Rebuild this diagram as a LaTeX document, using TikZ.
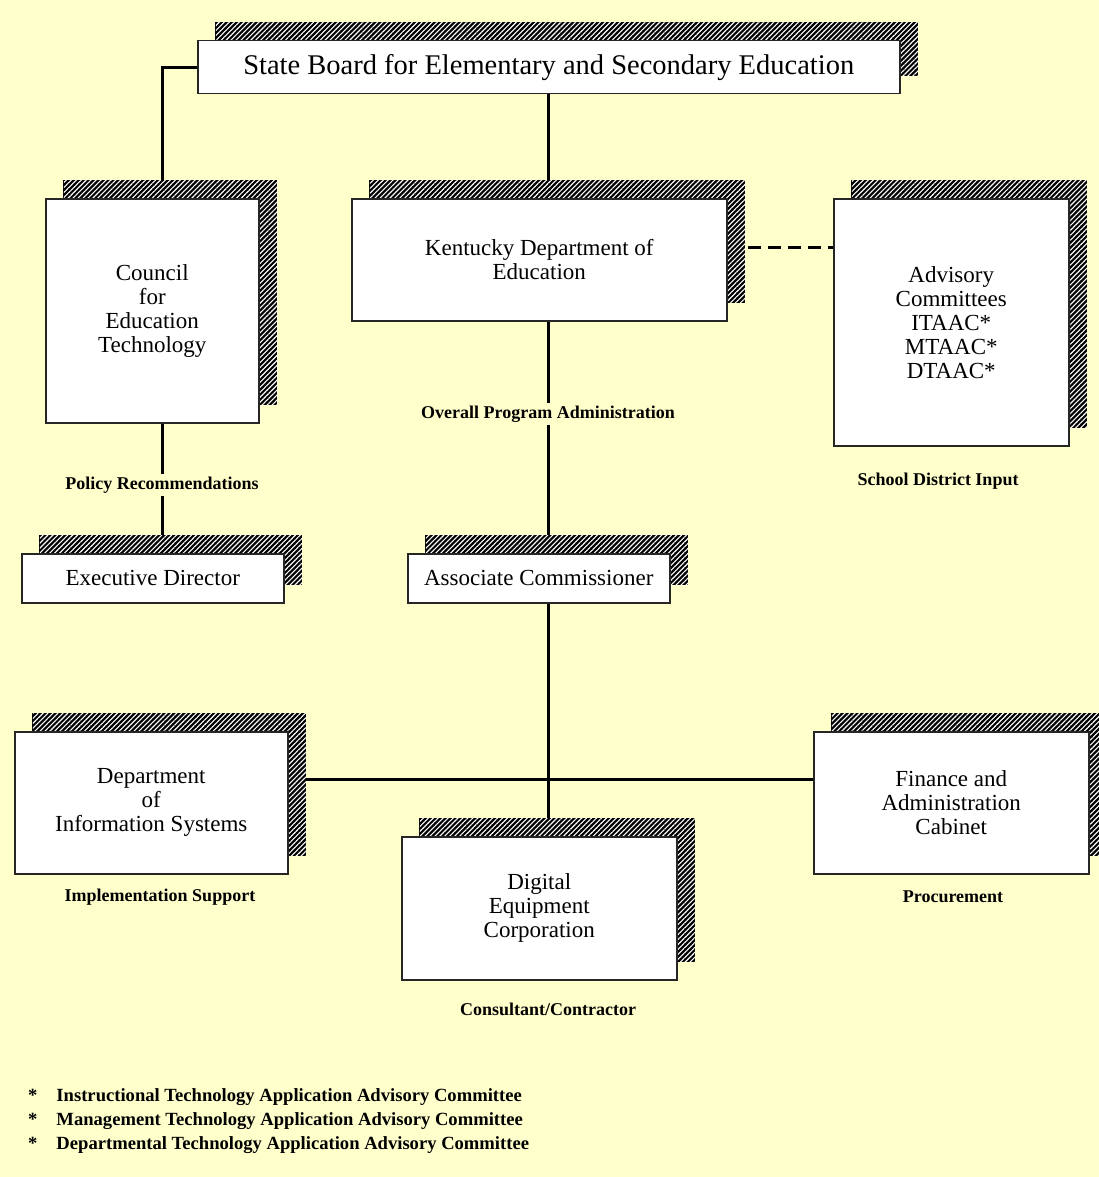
\documentclass[tikz,border=0pt]{standalone}
\usepackage{fontspec}
\setmainfont{Liberation Serif}
\usetikzlibrary{shadows,patterns.meta}
\definecolor{paper}{HTML}{FFFFCC}
\pgfdeclarelayer{bg}
\pgfdeclarelayer{wires}
\pgfsetlayers{bg,wires,main}
\tikzset{
  unit/.style={draw=black!85, line width=1.5pt, fill=white, anchor=north west,
    align=center, inner sep=0pt, font=\fontsize{23}{24}\selectfont,
    general shadow={shadow xshift=18pt, shadow yshift=18pt, fill=black, draw=black, line width=1pt},
    general shadow={shadow xshift=18pt, shadow yshift=18pt,
      pattern={Lines[angle=45,distance=3.5pt,line width=1.1pt]}, pattern color=white}},
  tag/.style={fill=paper, inner sep=3pt, font=\bfseries\fontsize{18}{20}\selectfont},
  note/.style={anchor=west, inner sep=0pt, font=\bfseries\fontsize{18.6}{20}\selectfont},
  wire/.style={line width=3pt},
}
\begin{document}
\begin{tikzpicture}[x=1pt,y=-1pt]
\useasboundingbox (0,0) rectangle (1099,1177);
\begin{pgfonlayer}{bg}
\fill[paper] (0,0) rectangle (1099,1177);
\end{pgfonlayer}
% boxes
\node[unit, minimum width=702pt, minimum height=53pt, font=\fontsize{28.5}{30}\selectfont] (board) at (197,40) {State Board for Elementary and Secondary Education};
\node[unit, minimum width=213pt, minimum height=224pt] (council) at (45,198) {Council\\for\\Education\\Technology};
\node[unit, minimum width=375pt, minimum height=122pt] (kde) at (351,198) {Kentucky Department of\\Education};
\node[unit, minimum width=235pt, minimum height=247pt] (advisory) at (833,198) {Advisory\\Committees\\ITAAC*\\MTAAC*\\DTAAC*};
\node[unit, minimum width=262pt, minimum height=49pt] (execdir) at (21,553) {Executive Director};
\node[unit, minimum width=262pt, minimum height=49pt] (assoc) at (407,553) {Associate Commissioner};
\node[unit, minimum width=273pt, minimum height=142pt] (dis) at (14,731) {Department\\of\\Information Systems};
\node[unit, minimum width=275pt, minimum height=143pt] (digital) at (401,836) {Digital\\Equipment\\Corporation};
\node[unit, minimum width=275pt, minimum height=142pt] (finance) at (813,731) {Finance and\\Administration\\Cabinet};
% labels
\node[tag] (policy) at (162,485) {Policy Recommendations};
\node[tag] (overall) at (548,414) {Overall Program Administration};
\node[tag] (input) at (938,481) {School District Input};
\node[tag] (support) at (160,897) {Implementation Support};
\node[tag] (procure) at (953,897) {Procurement};
\node[tag] (contract) at (548,1009) {Consultant/Contractor};
% footnotes
\node[note] (itaac) at (28,1097) {*\hspace{19pt}Instructional Technology Application Advisory Committee};
\node[note] (mtaac) at (28,1121) {*\hspace{19pt}Management Technology Application Advisory Committee};
\node[note] (dtaac) at (28,1145) {*\hspace{19pt}Departmental Technology Application Advisory Committee};
% connectors
\coordinate (left) at (162,0);
\coordinate (dash) at (0,247);
\coordinate (hbar) at (0,779);
\begin{pgfonlayer}{wires}
\draw[wire] (board.west) -| (council.north -| left);
\draw[wire] (council.south -| left) -- (execdir.north -| left);
\draw[wire] (board.south) -- (board.south |- kde.north);
\draw[wire] (kde.south -| board.south) -- (assoc.north -| board.south);
\draw[wire] (assoc.south -| board.south) -- (digital.north -| board.south);
\draw[wire] (dis.east |- hbar) -- (finance.west |- hbar);
\draw[wire, dash pattern=on 13pt off 7pt] (kde.east |- dash) -- (advisory.west |- dash);
\end{pgfonlayer}
\end{tikzpicture}
\end{document}
